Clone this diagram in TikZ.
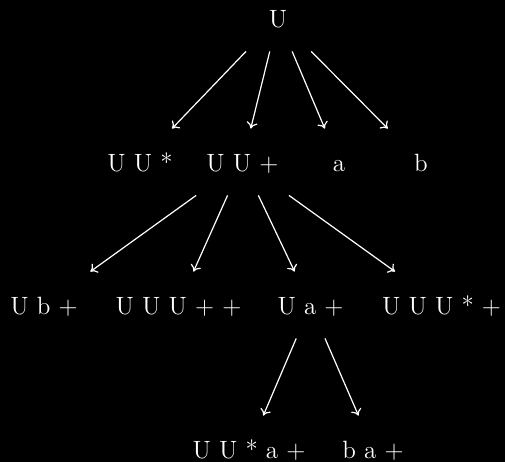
\documentclass[tikz,border=0pt]{standalone}
\usetikzlibrary{arrows.meta}
\begin{document}
\begin{tikzpicture}[x=0.5pt,y=-0.5pt,
  lbl/.style={text=white, font=\fontsize{12.5}{15}\selectfont, text height=21pt, text depth=12pt, inner sep=0pt, minimum width=50pt, anchor=base},
  conn/.style={draw=white, line width=0.6pt, -{To[length=3.2pt,width=5.5pt]}}]
\fill[black] (0,0) rectangle (505,462);
\useasboundingbox (0,0) rectangle (505,462);
\node[lbl] (r) at (278,27) {U};
\node[lbl] (uus) at (140,171) {U U *};
\node[lbl] (uup) at (242.5,171) {U U +};
\node[lbl] (a) at (339,171) {a};
\node[lbl] (b) at (421,171) {b};
\node[lbl] (ubp) at (44,314) {U b +};
\node[lbl] (uuupp) at (178.5,314) {U U U + +};
\node[lbl] (uap) at (310.5,314) {U a +};
\node[lbl] (uuusp) at (441.5,314) {U U U * +};
\node[lbl] (uusap) at (249,458) {U U * a +};
\node[lbl] (bap) at (373,458) {b a +};
\draw[conn] (r) -- (uus);
\draw[conn] (r) -- (uup);
\draw[conn] (r) -- (a);
\draw[conn] (r) -- (b);
\draw[conn] (uup) -- (ubp);
\draw[conn] (uup) -- (uuupp);
\draw[conn] (uup) -- (uap);
\draw[conn] (uup) -- (uuusp);
\draw[conn] (uap) -- (uusap);
\draw[conn] (uap) -- (bap);
\end{tikzpicture}
\end{document}
